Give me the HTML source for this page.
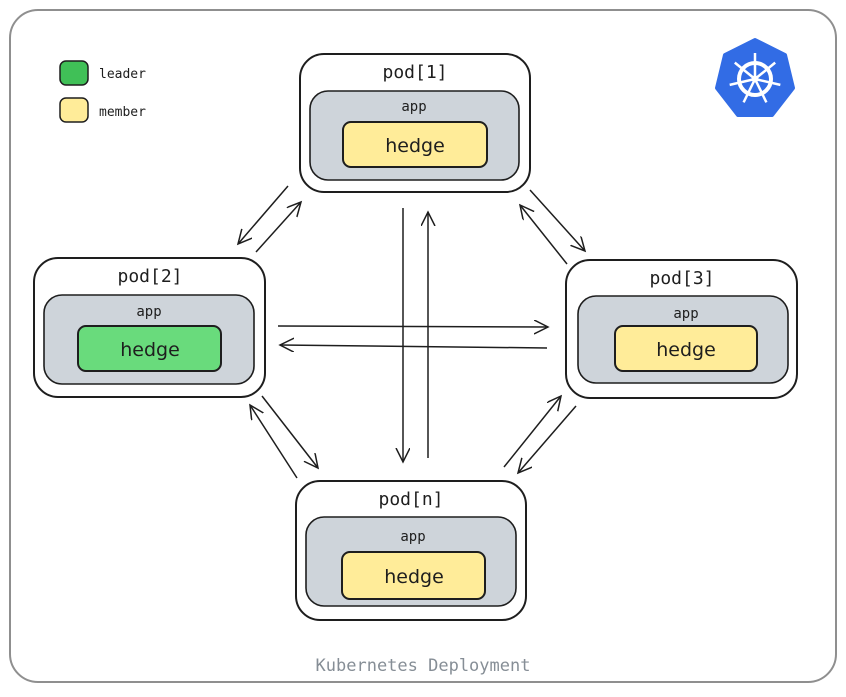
<!DOCTYPE html>
<html><head><style>
body{margin:0;background:#fff}
svg text{font-family:"DejaVu Sans Mono","Liberation Mono",monospace;fill:#1e1e1e}
.h{font-family:"DejaVu Sans","Liberation Sans",sans-serif;font-size:19px}
</style></head><body>
<svg width="846" height="692" viewBox="0 0 846 692" xmlns="http://www.w3.org/2000/svg">
<defs><marker id="a" markerWidth="16" markerHeight="16" refX="14" refY="7" orient="auto" markerUnits="userSpaceOnUse"><path d="M0,0 L14,7 L0,14" fill="none" stroke="#1e1e1e" stroke-width="1.5"/></marker></defs>
<rect x="10" y="10" width="826" height="672" rx="28" fill="#fff" stroke="#8f8f8f" stroke-width="2"/>
<rect x="60" y="61" width="28" height="24" rx="6" fill="#40c057" stroke="#1e1e1e" stroke-width="1.5"/>
<text x="99" y="78" font-size="13">leader</text>
<rect x="60" y="98" width="28" height="24" rx="6" fill="#ffec99" stroke="#1e1e1e" stroke-width="1.5"/>
<text x="99" y="116" font-size="13">member</text>
<g transform="translate(755,79)">
<polygon points="0,-39 30,-24 38,9 17,36 -17,36 -38,9 -30,-24" fill="#326ce5" stroke="#326ce5" stroke-width="4" stroke-linejoin="round"/>
<g stroke="#fff" fill="none"><circle r="16" stroke-width="4"/><circle r="3" fill="#fff" stroke-width="1"/>
<g stroke-width="2.5">
<line x1="0" y1="0" x2="0" y2="-26"/>
<line x1="0" y1="0" x2="0" y2="-26" transform="rotate(51)"/>
<line x1="0" y1="0" x2="0" y2="-26" transform="rotate(103)"/>
<line x1="0" y1="0" x2="0" y2="-26" transform="rotate(154)"/>
<line x1="0" y1="0" x2="0" y2="-26" transform="rotate(206)"/>
<line x1="0" y1="0" x2="0" y2="-26" transform="rotate(257)"/>
<line x1="0" y1="0" x2="0" y2="-26" transform="rotate(309)"/>
</g></g></g>
<g stroke="#1e1e1e" stroke-width="1.6" fill="none">
<rect x="300" y="54" width="230" height="138" rx="24" fill="#fff" stroke-width="2"/>
<rect x="310" y="91" width="209" height="89" rx="18" fill="#ced4da"/>
<rect x="343" y="122" width="144" height="45" rx="8" fill="#ffec99" stroke-width="2"/>
<rect x="34" y="258" width="231" height="139" rx="24" fill="#fff" stroke-width="2"/>
<rect x="44" y="295" width="210" height="89" rx="18" fill="#ced4da"/>
<rect x="78" y="326" width="143" height="45" rx="8" fill="#69db7c" stroke-width="2"/>
<rect x="566" y="260" width="231" height="138" rx="24" fill="#fff" stroke-width="2"/>
<rect x="578" y="296" width="210" height="87" rx="18" fill="#ced4da"/>
<rect x="615" y="326" width="142" height="45" rx="8" fill="#ffec99" stroke-width="2"/>
<rect x="296" y="481" width="230" height="139" rx="24" fill="#fff" stroke-width="2"/>
<rect x="306" y="517" width="210" height="89" rx="18" fill="#ced4da"/>
<rect x="342" y="552" width="143" height="47" rx="8" fill="#ffec99" stroke-width="2"/>
</g>
<g stroke="#1e1e1e" stroke-width="1.5" marker-end="url(#a)">
<line x1="288" y1="186" x2="238" y2="244"/><line x1="256" y1="252" x2="301" y2="202"/>
<line x1="530" y1="190" x2="585" y2="251"/><line x1="567" y1="264" x2="520" y2="205"/>
<line x1="403" y1="208" x2="403" y2="462"/><line x1="428" y1="458" x2="428" y2="212"/>
<line x1="278" y1="326" x2="548" y2="327"/><line x1="547" y1="348" x2="280" y2="345"/>
<line x1="262" y1="396" x2="318" y2="468"/><line x1="297" y1="478" x2="250" y2="405"/>
<line x1="504" y1="467" x2="561" y2="396"/><line x1="576" y1="406" x2="518" y2="473"/>
</g>
<g text-anchor="middle">
<text x="415" y="78" font-size="18">pod[1]</text><text x="414" y="111" font-size="14">app</text><text x="415" y="152" class="h">hedge</text>
<text x="150" y="282" font-size="18">pod[2]</text><text x="149" y="316" font-size="14">app</text><text x="150" y="356" class="h">hedge</text>
<text x="682" y="284" font-size="18">pod[3]</text><text x="686" y="318" font-size="14">app</text><text x="686" y="356" class="h">hedge</text>
<text x="411" y="505" font-size="18">pod[n]</text><text x="413" y="541" font-size="14">app</text><text x="414" y="583" class="h">hedge</text>
<text x="423" y="671" font-size="17" style="fill:#868e96">Kubernetes Deployment</text>
</g>
</svg>
</body></html>
